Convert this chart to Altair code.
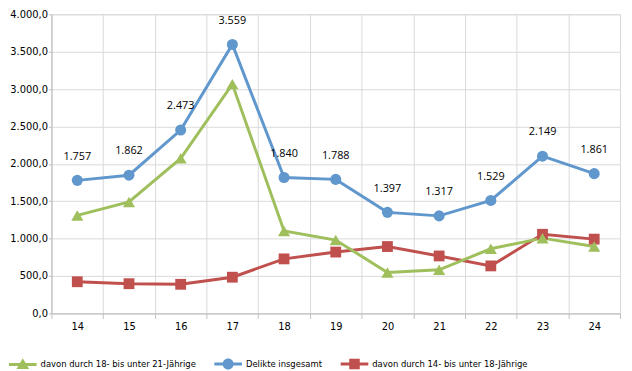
import altair as alt
import pandas as pd

# ---- data ----
years = ["14", "15", "16", "17", "18", "19", "20", "21", "22", "23", "24"]
delikte_insgesamt = [1779, 1848, 2452, 3597, 1817, 1792, 1351, 1304, 1511, 2102, 1869]
delikte_labels = [1757, 1862, 2473, 3559, 1840, 1788, 1397, 1317, 1529, 2149, 1861]
age_18_21 = [1310, 1490, 2073, 3066, 1101, 980, 548, 583, 864, 1006, 894]
age_14_18 = [423, 397, 389, 484, 729, 820, 894, 768, 635, 1058, 993]
y_ticks = [0, 500, 1000, 1500, 2000, 2500, 3000, 3500, 4000]

S_GREEN = "davon durch 18- bis unter 21-Jährige"
S_BLUE = "Delikte insgesamt"
S_RED = "davon durch 14- bis unter 18-Jährige"
series_names = [S_GREEN, S_BLUE, S_RED]
colors = ["#9FBF5C", "#6097CC", "#C0504D"]

# legend symbols: a short line with the marker in the middle
line_part = "M-1,-0.11 L1,-0.11 L1,0.11 L-1,0.11 Z "
legend_paths = [
    line_part + "M0,-0.45 L0.46,0.33 L-0.46,0.33 Z",
    line_part + "M-0.4,0 A0.4,0.4 0 1,1 0.4,0 A0.4,0.4 0 1,1 -0.4,0 Z",
    line_part + "M-0.38,-0.38 L0.38,-0.38 L0.38,0.38 L-0.38,0.38 Z",
]

series_values = {S_GREEN: age_18_21, S_BLUE: delikte_insgesamt, S_RED: age_14_18}
rows = []
for s in [S_RED, S_GREEN, S_BLUE]:
    for y, v in zip(years, series_values[s]):
        rows.append({"year": y, "series": s, "value": v})
df = pd.DataFrame(rows)

label_df = pd.DataFrame({"year": years, "value": delikte_insgesamt, "lab": delikte_labels})

AXIS_FONT = "DejaVu Sans"
grid_color = "#D9D9D9"
axis_color = "#BFBFBF"

x_enc = alt.X(
    "year:N",
    sort=years,
    bandPosition=0.5,
    scale=alt.Scale(type="band", paddingInner=0, paddingOuter=0),
    axis=alt.Axis(
        title=None,
        labelAngle=0,
        tickBand="extent",
        grid=True,
        gridColor=grid_color,
        domainColor=axis_color,
        tickColor=axis_color,
        tickSize=5,
        labelPadding=3,
        labelFont=AXIS_FONT,
        labelFontSize=10,
        labelColor="#000000",
    ),
)
y_enc = alt.Y(
    "value:Q",
    scale=alt.Scale(domain=[0, 4000], nice=False),
    axis=alt.Axis(
        title=None,
        values=y_ticks,
        labelExpr="replace(replace(replace(format(datum.value, ',.1f'), ',', '_'), '.', ','), '_', '.')",
        grid=True,
        gridColor=grid_color,
        domainColor=axis_color,
        tickColor=axis_color,
        tickSize=3,
        labelPadding=1,
        labelFont=AXIS_FONT,
        labelFontSize=10,
        labelColor="#000000",
    ),
)

base = alt.Chart(df).encode(x=x_enc, y=y_enc)

lines = base.mark_line(strokeWidth=3).encode(
    stroke=alt.Stroke("series:N", scale=alt.Scale(domain=series_names, range=colors), legend=None),
)

point_layers = []
for name, shp, sz in zip([S_RED, S_GREEN, S_BLUE], ["square", "triangle-up", "circle"], [120, 150, 125]):
    point_layers.append(
        base.transform_filter(alt.datum.series == name)
        .mark_point(filled=True, shape=shp, size=sz, opacity=1, strokeWidth=0)
        .encode(fill=alt.Fill("series:N", scale=alt.Scale(domain=series_names, range=colors), legend=None))
    )

labels = (
    alt.Chart(label_df)
    .transform_calculate(txt="replace(format(datum.lab, ','), ',', '.')")
    .mark_text(dy=-24, font="Open Sans", fontSize=11, color="#000000")
    .encode(x=x_enc, y=y_enc, text="txt:N")
)

legend_kw = dict(
    title=None,
    orient="none",
    legendX=-43,
    legendY=340,
    direction="horizontal",
    columns=3,
    columnPadding=18,
    labelOffset=4,
    padding=0,
    symbolSize=784,
    symbolStrokeWidth=0,
    symbolOpacity=1,
    labelFont="DejaVu Sans Condensed, Liberation Sans Narrow, sans-serif",
    labelFontSize=9.5,
    labelColor="#000000",
    labelLimit=400,
)

legend_layer = (
    alt.Chart(df)
    .transform_filter("false")
    .mark_point(filled=True, size=784, opacity=1, strokeWidth=0)
    .encode(
        x=x_enc,
        y=y_enc,
        color=alt.Color("series:N", scale=alt.Scale(domain=series_names, range=colors), legend=alt.Legend(**legend_kw)),
        shape=alt.Shape(
            "series:N",
            scale=alt.Scale(domain=series_names, range=legend_paths),
            legend=alt.Legend(**legend_kw),
        ),
    )
)

chart = (
    alt.layer(legend_layer, lines, *point_layers, labels)
    .properties(
        width=576,
        height=303,
        autosize=alt.AutoSizeParams(type="none"),
        padding={"left": 44, "top": 4, "right": 4, "bottom": 56},
    )
    .configure_view(stroke=grid_color, strokeWidth=1)
)

chart.save("out.html", embed_options={"renderer": "svg", "actions": False})
